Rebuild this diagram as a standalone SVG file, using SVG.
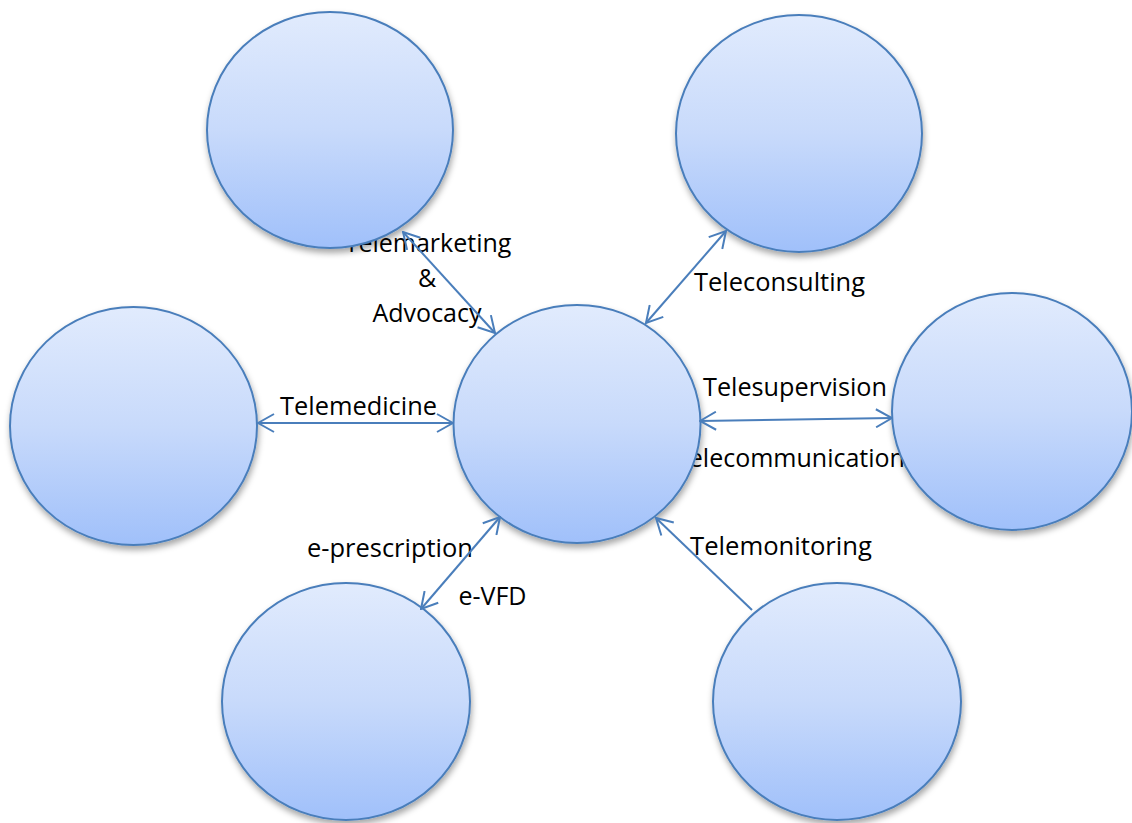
<svg xmlns="http://www.w3.org/2000/svg" width="1132" height="823" viewBox="0 0 1132 823">
<style>
.lbl{font-family:"Open Sans","Liberation Sans",sans-serif;font-size:25px;fill:#000;text-anchor:middle}
.node{fill:url(#g);stroke:#4a7ebb;stroke-width:2;filter:url(#sh)}
.conn{stroke:#4a7ebb;stroke-width:2;fill:none}
</style>
<defs>
<linearGradient id="g" x1="0" y1="0" x2="0" y2="1">
<stop offset="0" stop-color="#e1ebfd"/>
<stop offset="0.5" stop-color="#c8dafb"/>
<stop offset="1" stop-color="#a0c0fa"/>
</linearGradient>
<filter id="sh" x="-20%" y="-20%" width="140%" height="145%">
<feDropShadow dx="1" dy="4" stdDeviation="3" flood-color="#000" flood-opacity="0.35"/>
</filter>
<marker id="ah" viewBox="0 0 18 20" refX="17" refY="10" markerWidth="18" markerHeight="20" markerUnits="userSpaceOnUse" orient="auto-start-reverse">
<path d="M1,1 L17,10 L1,19" fill="none" stroke="#4a7ebb" stroke-width="2"/>
</marker>
</defs>
<rect width="1132" height="823" fill="#fff"/>
<g id="labels">
<text class="lbl" x="428" y="252">Telemarketing</text>
<text class="lbl" x="427" y="287">&amp;</text>
<text class="lbl" x="427" y="322">Advocacy</text>
<text class="lbl" x="779.5" y="291" textLength="171" lengthAdjust="spacingAndGlyphs">Teleconsulting</text>
<text class="lbl" x="795" y="396" textLength="184" lengthAdjust="spacingAndGlyphs">Telesupervision</text>
<text class="lbl" x="790" y="467">Telecommunication</text>
<text class="lbl" x="358.5" y="415" textLength="157" lengthAdjust="spacingAndGlyphs">Telemedicine</text>
<text class="lbl" x="390" y="557" textLength="166" lengthAdjust="spacingAndGlyphs">e-prescription</text>
<text class="lbl" x="492.5" y="605">e-VFD</text>
<text class="lbl" x="781" y="555" textLength="182" lengthAdjust="spacingAndGlyphs">Telemonitoring</text>
</g>
<g id="node-top-left"><ellipse class="node" cx="330" cy="130" rx="123" ry="118"/></g>
<g id="node-top-right"><ellipse class="node" cx="799" cy="133.5" rx="123" ry="118.5"/></g>
<g id="node-left"><ellipse class="node" cx="133.5" cy="426" rx="123.5" ry="119"/></g>
<g id="node-center"><ellipse class="node" cx="577" cy="424" rx="123.5" ry="119"/></g>
<g id="node-right"><ellipse class="node" cx="1012" cy="411.5" rx="120" ry="118.5"/></g>
<g id="node-bottom-left"><ellipse class="node" cx="346" cy="701.5" rx="124" ry="118.5"/></g>
<g id="node-bottom-right"><ellipse class="node" cx="837" cy="701.5" rx="124" ry="118.5"/></g>
<g id="connectors">
<line class="conn" x1="403" y1="232" x2="495" y2="333" marker-start="url(#ah)" marker-end="url(#ah)"/>
<line class="conn" x1="726" y1="231" x2="646" y2="323" marker-start="url(#ah)" marker-end="url(#ah)"/>
<line class="conn" x1="700" y1="421" x2="892" y2="418" marker-start="url(#ah)" marker-end="url(#ah)"/>
<line class="conn" x1="258" y1="423" x2="453" y2="423" marker-start="url(#ah)" marker-end="url(#ah)"/>
<line class="conn" x1="421" y1="609" x2="500" y2="517" marker-start="url(#ah)" marker-end="url(#ah)"/>
<line class="conn" x1="752" y1="610" x2="656" y2="518" marker-end="url(#ah)"/>
</g>
</svg>
